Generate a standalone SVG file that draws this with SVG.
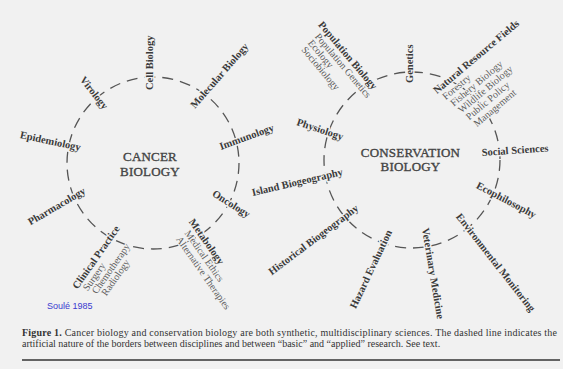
<svg xmlns="http://www.w3.org/2000/svg" width="563" height="369" viewBox="0 0 563 369">
<style>
  .bg { fill: #f1f1f1; }
  .ring { fill: none; stroke: #555; stroke-width: 1.3; stroke-dasharray: 11 7; }
  text { font-family: "Liberation Serif", "Times New Roman", serif; }
  .lb { font-size: 10.5px; font-weight: bold; fill: #3a3a3a; paint-order: stroke; stroke: #f1f1f1; stroke-width: 3px; stroke-linejoin: round; }
  .sub { font-size: 10px; font-weight: normal; fill: #5c5c5c; paint-order: stroke; stroke: #f1f1f1; stroke-width: 2.5px; stroke-linejoin: round; }
  .title { font-size: 13px; fill: #444; stroke: #444; stroke-width: 0.35px; text-anchor: middle; letter-spacing: 0.2px; }
  .cap { font-size: 10px; fill: #333; }
  .credit { font-family: "Liberation Sans", Arial, sans-serif; font-size: 9px; fill: #3a3ad0; }
</style>
<rect class="bg" x="0" y="0" width="563" height="369"/>

<g id="connectors">
  <circle class="ring" cx="153" cy="163" r="86"/>
  <circle class="ring" cx="412" cy="160" r="88"/>
</g>

<g id="cancer-biology">
  <text class="title" x="150" y="161">CANCER</text>
  <text class="title" x="150" y="176">BIOLOGY</text>
</g>
<g id="conservation-biology">
  <text class="title" x="410.5" y="157">CONSERVATION</text>
  <text class="title" x="410.5" y="171">BIOLOGY</text>
</g>

<g id="cell-biology"><text class="lb" transform="translate(153,90) rotate(-90)">Cell Biology</text></g>
<g id="virology"><text class="lb" transform="translate(79.6,79.8) rotate(52)">Virology</text></g>
<g id="molecular-biology"><text class="lb" transform="translate(195,109) rotate(-49)">Molecular Biology</text></g>
<g id="immunology"><text class="lb" transform="translate(221,150) rotate(-20)">Immunology</text></g>
<g id="epidemiology"><text class="lb" transform="translate(19.4,138) rotate(12)">Epidemiology</text></g>
<g id="pharmacology"><text class="lb" transform="translate(30.5,225.6) rotate(-30.5)">Pharmacology</text></g>
<g id="oncology"><text class="lb" transform="translate(211.4,195.5) rotate(32)">Oncology</text></g>
<g id="clinical-practice" transform="translate(77.5,289.7) rotate(-55)">
  <text class="lb" x="0" y="0">Clinical Practice</text>
  <text class="sub" x="4.5" y="9.5">Surgery</text>
  <text class="sub" x="7" y="18.5">Chemotherapy</text>
  <text class="sub" x="11" y="27.5">Radiology</text>
</g>
<g id="metabology" transform="translate(188.5,221.7) rotate(55)">
  <text class="lb" x="0" y="0">Metabology</text>
  <text class="sub" x="7" y="10">Medical Ethics</text>
  <text class="sub" x="7" y="20.5">Alternative Therapies</text>
</g>

<g id="genetics"><text class="lb" transform="translate(413,83) rotate(-90)">Genetics</text></g>
<g id="population-biology" transform="translate(317.7,24.9) rotate(50)">
  <text class="lb" x="0" y="0">Population Biology</text>
  <text class="sub" x="7" y="10">Population Genetics</text>
  <text class="sub" x="7.5" y="19.5">Ecology</text>
  <text class="sub" x="8.5" y="29">Sociobiology</text>
</g>
<g id="natural-resource-fields" transform="translate(436.9,94.3) rotate(-40)">
  <text class="lb" x="0" y="0">Natural Resource Fields</text>
  <text class="sub" x="3" y="10.2">Forestry</text>
  <text class="sub" x="5" y="20.4">Fishery Biology</text>
  <text class="sub" x="6.5" y="30.6">Wildlife Biology</text>
  <text class="sub" x="8" y="40.8">Public Policy</text>
  <text class="sub" x="9.5" y="51">Management</text>
</g>
<g id="physiology"><text class="lb" transform="translate(296,125) rotate(18.4)">Physiology</text></g>
<g id="social-sciences"><text class="lb" transform="translate(482,156) rotate(-4)">Social Sciences</text></g>
<g id="island-biogeography"><text class="lb" transform="translate(252.7,195.9) rotate(-13)">Island Biogeography</text></g>
<g id="historical-biogeography"><text class="lb" transform="translate(271.8,275.4) rotate(-37)">Historical Biogeography</text></g>
<g id="hazard-evaluation"><text class="lb" transform="translate(355.7,309.3) rotate(-64.6)">Hazard Evaluation</text></g>
<g id="veterinary-medicine"><text class="lb" transform="translate(422,228.5) rotate(80.5)">Veterinary Medicine</text></g>
<g id="environmental-monitoring"><text class="lb" transform="translate(455.6,216.8) rotate(52)">Environmental Monitoring</text></g>
<g id="ecophilosophy"><text class="lb" transform="translate(475.6,187.7) rotate(27.7)">Ecophilosophy</text></g>

<g id="credit"><text class="credit" x="47" y="309">Soulé 1985</text></g>

<g id="caption">
  <text class="cap" x="22" y="336" textLength="535" lengthAdjust="spacing"><tspan font-weight="bold">Figure 1.</tspan> Cancer biology and conservation biology are both synthetic, multidisciplinary sciences. The dashed line indicates the</text>
  <text class="cap" x="22" y="347">artificial nature of the borders between disciplines and between “basic” and “applied” research. See text.</text>
  <line x1="22" y1="360" x2="560" y2="360" stroke="#333" stroke-width="1.6"/>
</g>
</svg>
